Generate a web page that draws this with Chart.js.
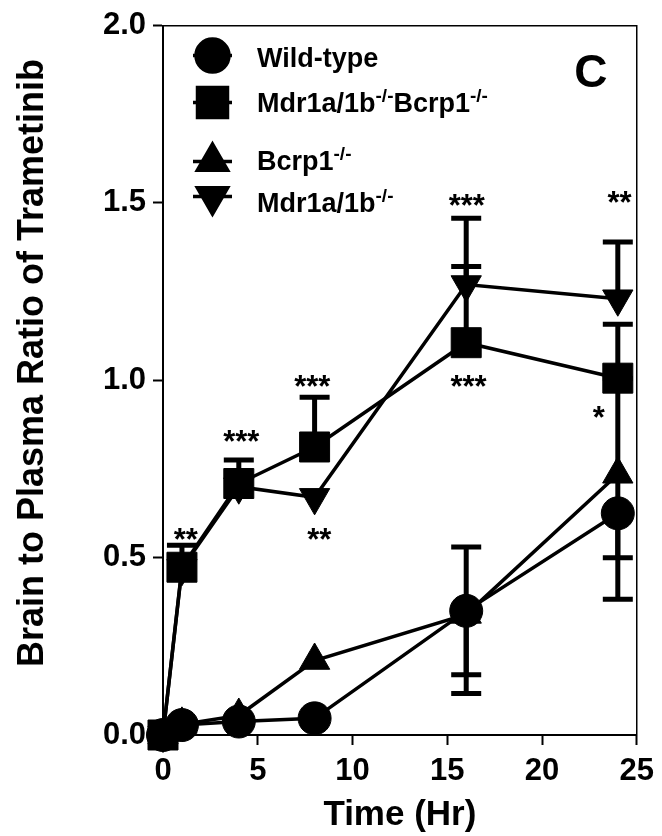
<!DOCTYPE html>
<html>
<head>
<meta charset="utf-8">
<script src="https://cdn.jsdelivr.net/npm/chart.js@4/dist/chart.umd.min.js"></script>
<style>
  html, body { margin: 0; padding: 0; background: #ffffff; }
  #wrap { width: 662px; height: 836px; }
</style>
</head>
<body>
<div id="wrap"><canvas id="chart" width="662" height="836"></canvas></div>
<script>
// Sampling times (h)
const timePoints = [0, 1, 4, 8, 16, 24];

// Mean brain-to-plasma ratios per genotype
const wildType   = [0, 0.028, 0.038, 0.047, 0.350, 0.625];
const tripleKO   = [0, 0.473, 0.709, 0.812, 1.106, 1.006];   // Mdr1a/1b-/- Bcrp1-/-
const bcrp1KO    = [0, 0.030, 0.055, 0.210, 0.340, 0.735];
const mdr1KO     = [0, 0.470, 0.700, 0.670, 1.270, 1.230];

// Error bars (SD), drawn above / below the mean
const wildTypeErrUp   = [0, 0, 0, 0, 0.180, 0];
const wildTypeErrDown = [0, 0, 0, 0, 0.180, 0.125];
const tripleKOErrUp   = [0, 0.062, 0.066, 0.140, 0.215, 0.152];
const tripleKOErrDown = [0, 0, 0, 0, 0, 0];
const bcrp1KOErrUp    = [0, 0, 0, 0, 0, 0.270];
const bcrp1KOErrDown  = [0, 0, 0, 0, 0.223, 0.352];
const mdr1KOErrUp     = [0, 0, 0, 0, 0.187, 0.160];
const mdr1KOErrDown   = [0, 0, 0, 0, 0, 0];

// Legend labels (^{...} marks superscript)
const seriesLabels = [
  'Wild-type',
  'Mdr1a/1b^{-/-}Bcrp1^{-/-}',
  'Bcrp1^{-/-}',
  'Mdr1a/1b^{-/-}'
];

// Axis ticks and titles
const xTicks = [0, 5, 10, 15, 20, 25];
const yTicks = [0.0, 0.5, 1.0, 1.5, 2.0];
const xTitle = 'Time (Hr)';
const yTitle = 'Brain to Plasma Ratio of Trametinib';

// Significance marks: time, vertical centre (ratio units), text
const sigTimes  = [1.2, 4.13, 7.88, 8.25, 16.03, 16.12, 24.09, 23.0];
const sigLevels = [0.570, 0.849, 1.003, 0.570, 1.512, 1.003, 1.522, 0.914];
const sigTexts  = ['**', '***', '***', '**', '***', '***', '**', '*'];

const FONT = "'Liberation Sans', Arial, Helvetica, sans-serif";

function toPoints(values) {
  return timePoints.map((t, i) => ({ x: t, y: values[i] }));
}

function makeSeries(label, values, up, down, style, radius, rotation, order) {
  return {
    label: label,
    data: toPoints(values),
    errUp: up,
    errDown: down,
    borderColor: '#000000',
    backgroundColor: '#000000',
    borderWidth: 3.5,
    pointStyle: style,
    pointRadius: radius,
    pointHoverRadius: radius,
    pointRotation: rotation,
    pointBackgroundColor: '#000000',
    pointBorderColor: '#000000',
    pointBorderWidth: 1,
    tension: 0,
    clip: false,
    order: order
  };
}

// Error bars with caps, behind the markers
const errorBars = {
  id: 'errorBars',
  beforeDatasetsDraw(chart, args, opts) {
    const ctx = chart.ctx;
    const xs = chart.scales.x, ys = chart.scales.y;
    ctx.save();
    ctx.strokeStyle = opts.color;
    ctx.lineWidth = opts.lineWidth;
    ctx.lineCap = 'butt';
    chart.data.datasets.forEach(ds => {
      ds.data.forEach((p, i) => {
        const x = xs.getPixelForValue(p.x);
        const y = ys.getPixelForValue(p.y);
        [[ds.errUp[i], 1], [ds.errDown[i], -1]].forEach(([e, s]) => {
          if (!e) return;
          const ye = ys.getPixelForValue(p.y + s * e);
          ctx.beginPath();
          ctx.moveTo(x, y);
          ctx.lineTo(x, ye);
          ctx.moveTo(x - opts.capHalfWidth, ye);
          ctx.lineTo(x + opts.capHalfWidth, ye);
          ctx.stroke();
        });
      });
    });
    ctx.restore();
  }
};

// Text with ^{...} superscripts
function drawRichText(ctx, text, x, y, size, supSize, supRise) {
  const parts = text.split(/(\^\{[^}]*\})/).filter(s => s.length);
  let cx = x;
  parts.forEach(part => {
    if (part.startsWith('^{')) {
      ctx.font = 'bold ' + supSize + 'px ' + FONT;
      const s = part.slice(2, -1);
      ctx.fillText(s, cx, y - supRise);
      cx += ctx.measureText(s).width;
    } else {
      ctx.font = 'bold ' + size + 'px ' + FONT;
      ctx.fillText(part, cx, y);
      cx += ctx.measureText(part).width;
    }
  });
}

// Legend, panel letter, vertical axis title and significance marks
const annotations = {
  id: 'annotations',
  afterDatasetsDraw(chart, args, opts) {
    const ctx = chart.ctx;
    const area = chart.chartArea;
    const xs = chart.scales.x, ys = chart.scales.y;
    ctx.save();
    ctx.fillStyle = '#000000';
    ctx.strokeStyle = '#000000';
    ctx.textAlign = 'left';
    ctx.textBaseline = 'alphabetic';

    // legend rows
    opts.legendOrder.forEach((dsIndex, row) => {
      const ds = chart.data.datasets[dsIndex];
      const my = area.top + opts.markerRows[row];
      const ty = area.top + opts.textRows[row];
      ctx.lineWidth = 3.5;
      ctx.beginPath();
      ctx.moveTo(opts.lineX0, my);
      ctx.lineTo(opts.lineX1, my);
      ctx.stroke();
      Chart.helpers.drawPoint(ctx, {
        pointStyle: ds.pointStyle,
        rotation: ds.pointRotation,
        radius: ds.pointRadius,
        borderWidth: 1
      }, (opts.lineX0 + opts.lineX1) / 2, my);
      ctx.fill();
      drawRichText(ctx, ds.label, opts.textX, ty, opts.legendSize, opts.supSize, opts.supRise);
    });

    // panel letter
    ctx.font = 'bold 46px ' + FONT;
    ctx.textAlign = 'center';
    ctx.fillText('C', area.right - 46, area.top + 61);

    // significance asterisks
    ctx.font = 'bold 31px ' + FONT;
    sigTexts.forEach((txt, i) => {
      const x = xs.getPixelForValue(sigTimes[i]);
      const y = ys.getPixelForValue(sigLevels[i]);
      ctx.fillText(txt, x, y + 0.57 * 31);
    });

    // vertical axis title
    ctx.save();
    ctx.translate(opts.yTitleX, opts.yTitleY);
    ctx.rotate(-Math.PI / 2);
    ctx.font = 'bold 36px ' + FONT;
    ctx.textAlign = 'center';
    ctx.textBaseline = 'middle';
    ctx.fillText(yTitle, 0, 0);
    ctx.restore();

    ctx.restore();
  }
};

const datasets = [
  makeSeries(seriesLabels[0], wildType, wildTypeErrUp, wildTypeErrDown, 'circle', 16.5, 0, 2),
  makeSeries(seriesLabels[1], tripleKO, tripleKOErrUp, tripleKOErrDown, 'rect', 21.2, 0, 0),
  makeSeries(seriesLabels[2], bcrp1KO, bcrp1KOErrUp, bcrp1KOErrDown, 'triangle', 17.5, 0, 3),
  makeSeries(seriesLabels[3], mdr1KO, mdr1KOErrUp, mdr1KOErrDown, 'triangle', 17.5, 180, 1)
];

const tickFont = { family: FONT, size: 31, weight: 'bold' };

new Chart(document.getElementById('chart'), {
  type: 'line',
  data: { datasets: datasets },
  plugins: [errorBars, annotations],
  options: {
    responsive: false,
    animation: false,
    events: [],
    layout: { padding: { top: 22, right: 23, left: 0, bottom: 0 } },
    plugins: {
      legend: { display: false },
      tooltip: { enabled: false },
      errorBars: { color: '#000000', lineWidth: 5, capHalfWidth: 15 },
      annotations: {
        legendOrder: [0, 1, 2, 3],
        markerRows: [30, 77, 136, 171],
        textRows: [41.5, 86.5, 144.5, 186],
        lineX0: 193, lineX1: 232, textX: 257,
        legendSize: 27, supSize: 19, supRise: 10,
        yTitleX: 33, yTitleY: 363
      }
    },
    scales: {
      x: {
        type: 'linear', position: 'bottom', min: 0, max: 25,
        afterBuildTicks: s => { s.ticks = xTicks.map(v => ({ value: v })); },
        afterFit: s => { s.height = 101; },
        ticks: { font: tickFont, color: '#000000', padding: 8, maxRotation: 0, autoSkip: false },
        grid: { display: true, drawOnChartArea: false, drawTicks: true, tickLength: 10, tickWidth: 2, tickColor: '#000000' },
        border: { display: true, color: '#000000', width: 2 },
        title: { display: true, text: xTitle, color: '#000000',
                 font: { family: FONT, size: 35, weight: 'bold' }, padding: { top: 0, bottom: 0 } }
      },
      y: {
        type: 'linear', position: 'left', min: 0, max: 2,
        afterBuildTicks: s => { s.ticks = yTicks.map(v => ({ value: v })); },
        afterFit: s => { s.width = 163; },
        ticks: { font: tickFont, color: '#000000', padding: 7,
                 callback: v => Number(v).toFixed(1) },
        grid: { display: true, drawOnChartArea: false, drawTicks: true, tickLength: 10, tickWidth: 2, tickColor: '#000000' },
        border: { display: true, color: '#000000', width: 2 },
        title: { display: false }
      },
      xTop: {
        type: 'linear', position: 'top', min: 0, max: 25,
        afterFit: s => { s.height = 0; },
        ticks: { display: false },
        grid: { display: false, drawTicks: false },
        border: { display: true, color: '#000000', width: 1.5 }
      },
      yRight: {
        type: 'linear', position: 'right', min: 0, max: 2,
        afterFit: s => { s.width = 0; },
        ticks: { display: false },
        grid: { display: false, drawTicks: false },
        border: { display: true, color: '#000000', width: 1.5 }
      }
    }
  }
});
</script>
</body>
</html>
